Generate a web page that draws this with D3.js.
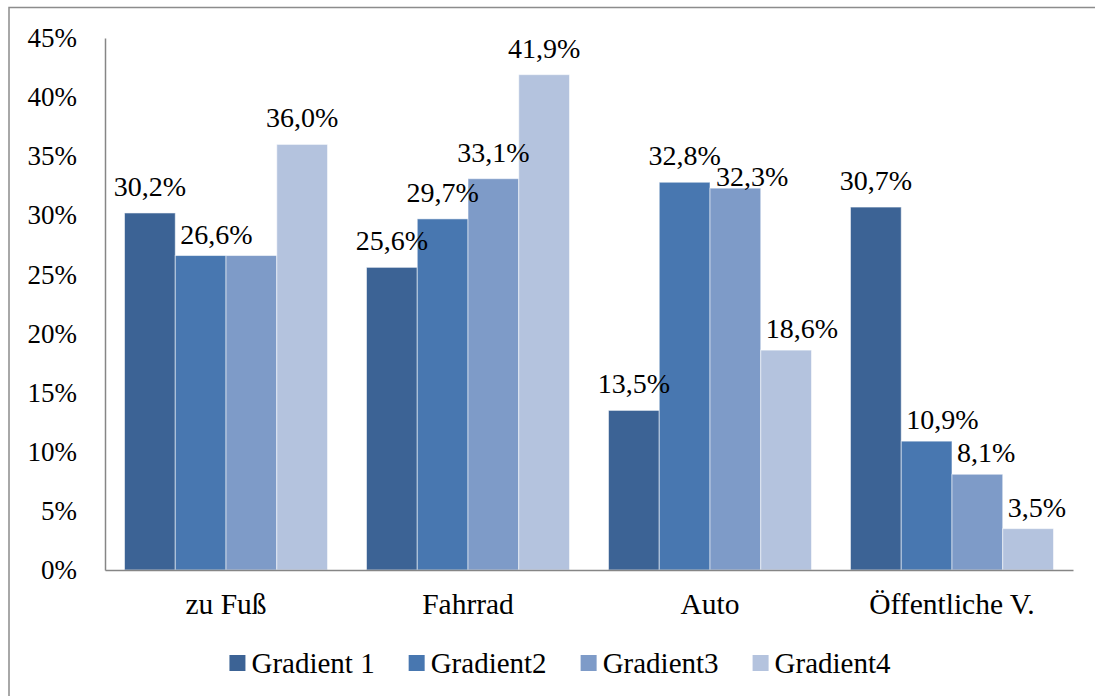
<!DOCTYPE html>
<html>
<head>
<meta charset="utf-8">
<script src="https://cdn.jsdelivr.net/npm/d3@7"></script>
<style>
  html, body { margin: 0; padding: 0; background: #fff; }
  svg { display: block; }
  svg text { font-family: "Liberation Serif", "Times New Roman", "DejaVu Serif", serif !important; fill: #000; }
</style>
</head>
<body>
<svg id="chart" width="1095" height="696"></svg>
<script>
// ---- data ----
const categories = ["zu Fuß", "Fahrrad", "Auto", "Öffentliche V."];
const seriesNames = ["Gradient 1", "Gradient2", "Gradient3", "Gradient4"];
const gradient1 = [30.2, 25.6, 13.5, 30.7];
const gradient2 = [26.6, 29.7, 32.8, 10.9];
const gradient3 = [26.6, 33.1, 32.3, 8.1];
const gradient4 = [36.0, 41.9, 18.6, 3.5];
const yTicks = [0, 5, 10, 15, 20, 25, 30, 35, 40, 45];
const colors = ["#3c6395", "#4877b0", "#7e9bc8", "#b4c3de"];

const seriesValues = [gradient1, gradient2, gradient3, gradient4];

// ---- layout ----
const svg = d3.select("#chart");
const W = 1095, H = 696;
const plot = { left: 105, right: 1073, top: 38, bottom: 570 };
const FS_TICK = 27, FS_LABEL = 28, FS_CAT = 29.5, FS_LEG = 29;

const deLocale = d3.formatLocale({ decimal: ",", thousands: ".", grouping: [3], currency: ["", " €"] });
const fmtVal = v => deLocale.format(".1f")(v) + "%";
const fmtTick = v => deLocale.format("d")(v) + "%";

// outer border
svg.append("rect")
  .attr("x", 9).attr("y", 7.5)
  .attr("width", W + 20).attr("height", H + 20)
  .attr("fill", "none").attr("stroke", "#8c8c8c").attr("stroke-width", 1.5);

const x0 = d3.scaleBand().domain(categories)
  .range([plot.left, plot.right]).paddingInner(0.161).paddingOuter(0.0806);
const x1 = d3.scaleBand().domain(seriesNames).range([0, x0.bandwidth()]);
const y = d3.scaleLinear().domain([0, 45]).range([plot.bottom, plot.top]);

// y axis
const yAxis = svg.append("g").attr("transform", `translate(${plot.left},0)`)
  .call(d3.axisLeft(y).tickValues(yTicks).tickFormat(fmtTick).tickSize(0).tickPadding(28));
yAxis.attr("font-family", null);
yAxis.select(".domain").attr("stroke", "#868686").attr("stroke-width", 1.5);
yAxis.selectAll("text").attr("font-size", FS_TICK).attr("fill", "#000");

// bars
const flat = [];
categories.forEach((c, ci) => {
  seriesNames.forEach((s, si) => {
    flat.push({ cat: c, ci, ser: s, si, v: seriesValues[si][ci] });
  });
});

svg.append("g").selectAll("rect").data(flat).join("rect")
  .attr("x", d => x0(d.cat) + x1(d.ser))
  .attr("y", d => y(d.v))
  .attr("width", x1.bandwidth())
  .attr("height", d => y(0) - y(d.v))
  .attr("fill", d => colors[d.si])
  .attr("stroke", "rgba(255,255,255,0.55)")
  .attr("stroke-width", 1);

// x axis
const xAxis = svg.append("g").attr("transform", `translate(0,${plot.bottom})`)
  .call(d3.axisBottom(x0).tickSize(0));
xAxis.attr("font-family", null);
xAxis.select(".domain").attr("stroke", "#868686").attr("stroke-width", 1.5);
xAxis.selectAll("text").attr("font-size", FS_CAT).attr("fill", "#000")
  .attr("dy", null).attr("y", 44);

// data labels (above bar; shifted right/down when lower than the previous bar)
const labelG = svg.append("g");
const placed = [];
categories.forEach((c, ci) => {
  let prevTxt = null, prevV = null;
  seriesNames.forEach((s, si) => {
    const v = seriesValues[si][ci];
    const txt = fmtVal(v);
    const bx = x0(c) + x1(s);
    const top = y(v);
    if (prevTxt === txt) { prevTxt = null; prevV = v; return; }
    const t = labelG.append("text").text(txt).attr("font-size", FS_LABEL);
    if (prevV !== null && v < prevV) {
      t.attr("text-anchor", "start").attr("x", bx + 5).attr("y", top - 12);
    } else {
      t.attr("text-anchor", "middle").attr("x", bx + x1.bandwidth() / 2).attr("y", top - 17);
    }
    let bb = t.node().getBBox();
    const overlaps = placed.some(p => !(bb.x + bb.width < p.x || p.x + p.width < bb.x || bb.y + bb.height - 6 < p.y || p.y + p.height - 6 < bb.y));
    if (overlaps) {
      t.attr("text-anchor", "start").attr("x", bx + 6).attr("y", top - 2);
      bb = t.node().getBBox();
    }
    placed.push(bb);
    prevTxt = txt; prevV = v;
  });
});

// legend
const legend = svg.append("g");
const items = legend.selectAll("g").data(seriesNames).join("g");
items.append("rect").attr("width", 16).attr("height", 16).attr("y", 655)
  .attr("fill", (d, i) => colors[i]);
items.append("text").text(d => d).attr("font-size", FS_LEG).attr("y", 673).attr("x", 22);
let widths = [];
items.each(function () { widths.push(22 + d3.select(this).select("text").node().getComputedTextLength()); });
const gap = 34;
const total = d3.sum(widths) + gap * (widths.length - 1);
let cx = 560 - total / 2;
items.each(function (d, i) {
  d3.select(this).attr("transform", `translate(${cx},0)`);
  cx += widths[i] + gap;
});
</script>
</body>
</html>
